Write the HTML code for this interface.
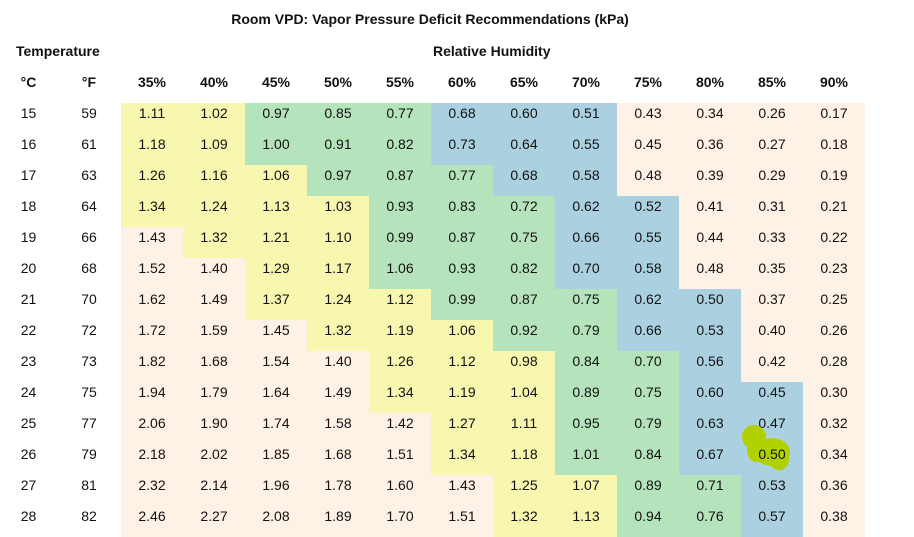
<!DOCTYPE html>
<html><head><meta charset="utf-8"><style>
body{margin:0;width:914px;height:518px;overflow:hidden;background:#fff;font-family:"Liberation Sans",sans-serif;color:#111;position:relative}
.t{position:absolute;font-weight:bold;font-size:14px;white-space:nowrap}
table{position:absolute;left:0;top:72px;border-collapse:collapse;font-size:14px}
td{padding:0;height:31px;line-height:20px;vertical-align:top;text-align:center;width:62px}
td.c{width:57px}
tr.h td{font-weight:bold}
.y{background:#f8f7b0}.g{background:#b5e3bb}.b{background:#abd1e0}.p{background:#fef1e6}
</style></head><body>
<div class="t" style="left:229px;top:11px;width:402px;text-align:center">Room VPD: Vapor Pressure Deficit Recommendations (kPa)</div>
<div class="t" style="left:16px;top:43px">Temperature</div>
<div class="t" style="left:433px;top:43px">Relative Humidity</div>
<table>
<tr class="h"><td class="c">°C</td><td style="width:64px">°F</td><td>35%</td><td>40%</td><td>45%</td><td>50%</td><td>55%</td><td>60%</td><td>65%</td><td>70%</td><td>75%</td><td>80%</td><td>85%</td><td>90%</td></tr>
<tr><td class="c">15</td><td>59</td><td class="y">1.11</td><td class="y">1.02</td><td class="g">0.97</td><td class="g">0.85</td><td class="g">0.77</td><td class="b">0.68</td><td class="b">0.60</td><td class="b">0.51</td><td class="p">0.43</td><td class="p">0.34</td><td class="p">0.26</td><td class="p">0.17</td></tr>
<tr><td class="c">16</td><td>61</td><td class="y">1.18</td><td class="y">1.09</td><td class="g">1.00</td><td class="g">0.91</td><td class="g">0.82</td><td class="b">0.73</td><td class="b">0.64</td><td class="b">0.55</td><td class="p">0.45</td><td class="p">0.36</td><td class="p">0.27</td><td class="p">0.18</td></tr>
<tr><td class="c">17</td><td>63</td><td class="y">1.26</td><td class="y">1.16</td><td class="y">1.06</td><td class="g">0.97</td><td class="g">0.87</td><td class="g">0.77</td><td class="b">0.68</td><td class="b">0.58</td><td class="p">0.48</td><td class="p">0.39</td><td class="p">0.29</td><td class="p">0.19</td></tr>
<tr><td class="c">18</td><td>64</td><td class="y">1.34</td><td class="y">1.24</td><td class="y">1.13</td><td class="y">1.03</td><td class="g">0.93</td><td class="g">0.83</td><td class="g">0.72</td><td class="b">0.62</td><td class="b">0.52</td><td class="p">0.41</td><td class="p">0.31</td><td class="p">0.21</td></tr>
<tr><td class="c">19</td><td>66</td><td class="p">1.43</td><td class="y">1.32</td><td class="y">1.21</td><td class="y">1.10</td><td class="g">0.99</td><td class="g">0.87</td><td class="g">0.75</td><td class="b">0.66</td><td class="b">0.55</td><td class="p">0.44</td><td class="p">0.33</td><td class="p">0.22</td></tr>
<tr><td class="c">20</td><td>68</td><td class="p">1.52</td><td class="p">1.40</td><td class="y">1.29</td><td class="y">1.17</td><td class="g">1.06</td><td class="g">0.93</td><td class="g">0.82</td><td class="b">0.70</td><td class="b">0.58</td><td class="p">0.48</td><td class="p">0.35</td><td class="p">0.23</td></tr>
<tr><td class="c">21</td><td>70</td><td class="p">1.62</td><td class="p">1.49</td><td class="y">1.37</td><td class="y">1.24</td><td class="y">1.12</td><td class="g">0.99</td><td class="g">0.87</td><td class="g">0.75</td><td class="b">0.62</td><td class="b">0.50</td><td class="p">0.37</td><td class="p">0.25</td></tr>
<tr><td class="c">22</td><td>72</td><td class="p">1.72</td><td class="p">1.59</td><td class="p">1.45</td><td class="y">1.32</td><td class="y">1.19</td><td class="y">1.06</td><td class="g">0.92</td><td class="g">0.79</td><td class="b">0.66</td><td class="b">0.53</td><td class="p">0.40</td><td class="p">0.26</td></tr>
<tr><td class="c">23</td><td>73</td><td class="p">1.82</td><td class="p">1.68</td><td class="p">1.54</td><td class="p">1.40</td><td class="y">1.26</td><td class="y">1.12</td><td class="y">0.98</td><td class="g">0.84</td><td class="g">0.70</td><td class="b">0.56</td><td class="p">0.42</td><td class="p">0.28</td></tr>
<tr><td class="c">24</td><td>75</td><td class="p">1.94</td><td class="p">1.79</td><td class="p">1.64</td><td class="p">1.49</td><td class="y">1.34</td><td class="y">1.19</td><td class="y">1.04</td><td class="g">0.89</td><td class="g">0.75</td><td class="b">0.60</td><td class="b">0.45</td><td class="p">0.30</td></tr>
<tr><td class="c">25</td><td>77</td><td class="p">2.06</td><td class="p">1.90</td><td class="p">1.74</td><td class="p">1.58</td><td class="p">1.42</td><td class="y">1.27</td><td class="y">1.11</td><td class="g">0.95</td><td class="g">0.79</td><td class="b">0.63</td><td class="b">0.47</td><td class="p">0.32</td></tr>
<tr><td class="c">26</td><td>79</td><td class="p">2.18</td><td class="p">2.02</td><td class="p">1.85</td><td class="p">1.68</td><td class="p">1.51</td><td class="y">1.34</td><td class="y">1.18</td><td class="g">1.01</td><td class="g">0.84</td><td class="b">0.67</td><td class="b" style="position:relative"><svg width="62" height="31" style="position:absolute;left:0;top:0;overflow:visible" viewBox="0 0 62 31"><circle cx="13" cy="-7" r="12" fill="#b0d000"/><ellipse cx="31" cy="8" rx="18" ry="14" fill="#b0d000"/><ellipse cx="15" cy="6" rx="9" ry="12" fill="#b0d000"/><circle cx="38" cy="16" r="10" fill="#b0d000"/></svg><span style="position:relative">0.50</span></td><td class="p">0.34</td></tr>
<tr><td class="c">27</td><td>81</td><td class="p">2.32</td><td class="p">2.14</td><td class="p">1.96</td><td class="p">1.78</td><td class="p">1.60</td><td class="p">1.43</td><td class="y">1.25</td><td class="y">1.07</td><td class="g">0.89</td><td class="g">0.71</td><td class="b">0.53</td><td class="p">0.36</td></tr>
<tr><td class="c">28</td><td>82</td><td class="p">2.46</td><td class="p">2.27</td><td class="p">2.08</td><td class="p">1.89</td><td class="p">1.70</td><td class="p">1.51</td><td class="y">1.32</td><td class="y">1.13</td><td class="g">0.94</td><td class="g">0.76</td><td class="b">0.57</td><td class="p">0.38</td></tr>
</table>
</body></html>
